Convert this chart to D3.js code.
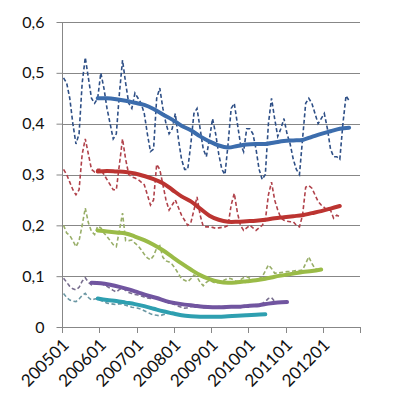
<!DOCTYPE html>
<html>
<head>
<meta charset="utf-8">
<script src="https://cdn.jsdelivr.net/npm/d3@7"></script>
<style>
  body { margin: 0; background: #fff; }
</style>
</head>
<body>
<script>
// months 200501 .. 201212 (category axis)
var years = [2005, 2006, 2007, 2008, 2009, 2010, 2011, 2012];
var months = [];
years.forEach(function(y) {
  for (var m = 1; m <= 12; m++) months.push(y + (m < 10 ? "0" : "") + m);
});
var tickLabels = ["200501", "200601", "200701", "200801", "200901", "201001", "201101", "201201"];
var yTicks = [0, 0.1, 0.2, 0.3, 0.4, 0.5, 0.6];

// monthly values (dashed), starting at 200501
var blueMonthly = [
  0.49, 0.48, 0.45, 0.40, 0.36, 0.38, 0.48, 0.53, 0.49, 0.45, 0.44, 0.45,
  0.50, 0.47, 0.43, 0.40, 0.37, 0.38, 0.46, 0.525, 0.48, 0.44, 0.43, 0.46,
  0.45, 0.44, 0.42, 0.38, 0.345, 0.35, 0.45, 0.47, 0.43, 0.40, 0.38, 0.39,
  0.42, 0.37, 0.33, 0.31, 0.31, 0.36, 0.42, 0.43, 0.39, 0.35, 0.335, 0.37,
  0.41, 0.38, 0.34, 0.31, 0.30, 0.36, 0.43, 0.44, 0.40, 0.36, 0.345, 0.39,
  0.39, 0.38, 0.35, 0.31, 0.29, 0.30, 0.40, 0.45, 0.41, 0.375, 0.39, 0.41,
  0.38, 0.36, 0.33, 0.31, 0.30, 0.37, 0.44, 0.45, 0.44, 0.42, 0.40, 0.41,
  0.42, 0.39, 0.35, 0.335, 0.335, 0.33, 0.40, 0.455, 0.445
];
var redMonthly = [
  0.31, 0.30, 0.285, 0.27, 0.26, 0.27, 0.34, 0.37, 0.34, 0.31, 0.305, 0.31,
  0.31, 0.30, 0.29, 0.28, 0.27, 0.27, 0.32, 0.37, 0.33, 0.30, 0.295, 0.293,
  0.29, 0.285, 0.28, 0.26, 0.24, 0.25, 0.32, 0.31, 0.28, 0.25, 0.23, 0.24,
  0.25, 0.235, 0.22, 0.21, 0.20, 0.205, 0.23, 0.256, 0.22, 0.198, 0.197, 0.197,
  0.196, 0.194, 0.195, 0.196, 0.197, 0.20, 0.24, 0.263, 0.225, 0.20, 0.19, 0.195,
  0.20, 0.195, 0.19, 0.195, 0.20, 0.21, 0.26, 0.285, 0.25, 0.23, 0.215, 0.21,
  0.208, 0.207, 0.207, 0.20, 0.197, 0.22, 0.275, 0.278, 0.273, 0.26, 0.247, 0.24,
  0.235, 0.23, 0.23, 0.214, 0.22, 0.217
];
var greenMonthly = [
  0.20, 0.185, 0.18, 0.17, 0.158, 0.17, 0.20, 0.234, 0.205, 0.188, 0.182, 0.198,
  0.195, 0.185, 0.178, 0.17, 0.162, 0.158, 0.19, 0.224, 0.17, 0.17, 0.171, 0.165,
  0.16, 0.152, 0.143, 0.136, 0.132, 0.14, 0.155, 0.16, 0.137, 0.13, 0.128, 0.123,
  0.115, 0.105, 0.095, 0.092, 0.089, 0.095, 0.102, 0.098, 0.088, 0.081, 0.088, 0.092,
  0.089, 0.086, 0.088, 0.09, 0.093, 0.096, 0.095, 0.092, 0.089, 0.093, 0.097, 0.099,
  0.096, 0.093, 0.092, 0.095, 0.099, 0.11, 0.122, 0.115, 0.106, 0.106, 0.107, 0.108,
  0.109, 0.109, 0.11, 0.111, 0.111, 0.112, 0.125, 0.138, 0.125, 0.115, 0.112
];
var purpleMonthly = [
  0.096, 0.088, 0.08, 0.075, 0.073, 0.078, 0.09, 0.097, 0.088, 0.083, 0.085, 0.087,
  0.086, 0.083, 0.08, 0.076, 0.072, 0.069, 0.074, 0.076, 0.072, 0.068, 0.066, 0.064,
  0.063, 0.061, 0.059, 0.057, 0.056, 0.057, 0.058, 0.056, 0.053, 0.05, 0.047, 0.046,
  0.044, 0.041, 0.039, 0.037, 0.038, 0.04, 0.041, 0.04, 0.039, 0.038, 0.038, 0.039,
  0.038, 0.039, 0.04, 0.04, 0.041, 0.04, 0.04, 0.041, 0.04, 0.041, 0.042, 0.043,
  0.042, 0.043, 0.044, 0.044, 0.046, 0.05, 0.056, 0.058, 0.05, 0.048, 0.048, 0.049,
  0.049
];
var tealMonthly = [
  0.066, 0.058, 0.053, 0.051, 0.05, 0.055, 0.062, 0.066, 0.058, 0.053, 0.055, 0.056,
  0.052, 0.05, 0.047, 0.046, 0.045, 0.044, 0.046, 0.045, 0.043, 0.041, 0.039, 0.038,
  0.037, 0.035, 0.032, 0.029, 0.026, 0.024, 0.023, 0.022, 0.024, 0.026, 0.027, 0.027,
  0.026, 0.025, 0.024, 0.024, 0.022, 0.021, 0.021, 0.02, 0.02, 0.02, 0.021, 0.02,
  0.02, 0.021, 0.021, 0.022, 0.021, 0.022, 0.022, 0.023, 0.022, 0.023, 0.023, 0.024,
  0.024, 0.024, 0.025, 0.024, 0.025, 0.025
];

// moving-average trend (thick), read every 3 months from its first month
var blueTrendStart = 11;
var blueTrend = [0.45, 0.45, 0.448, 0.445, 0.441, 0.437, 0.429, 0.418, 0.408, 0.396, 0.387, 0.375, 0.365, 0.357,
  0.353, 0.356, 0.359, 0.36, 0.36, 0.363, 0.366, 0.367, 0.368, 0.374, 0.38, 0.385, 0.39, 0.392];
var redTrendStart = 11;
var redTrend = [0.306, 0.307, 0.306, 0.305, 0.302, 0.297, 0.291, 0.283, 0.27, 0.257, 0.247, 0.233, 0.219, 0.211,
  0.207, 0.207, 0.208, 0.209, 0.211, 0.214, 0.216, 0.218, 0.22, 0.224, 0.228, 0.233, 0.238];
var greenTrendStart = 11;
var greenTrend = [0.19, 0.188, 0.186, 0.184, 0.178, 0.171, 0.162, 0.151, 0.138, 0.125, 0.113, 0.102, 0.094, 0.089,
  0.087, 0.088, 0.09, 0.092, 0.095, 0.099, 0.102, 0.105, 0.108, 0.11, 0.113];
var purpleTrendStart = 9;
var purpleTrend = [0.087, 0.086, 0.083, 0.079, 0.074, 0.068, 0.062, 0.057, 0.051, 0.047, 0.044, 0.042, 0.04, 0.039,
  0.039, 0.04, 0.04, 0.042, 0.043, 0.046, 0.048, 0.049];
var tealTrendStart = 11;
var tealTrend = [0.056, 0.053, 0.051, 0.048, 0.045, 0.041, 0.036, 0.031, 0.027, 0.023, 0.021, 0.02, 0.02, 0.02,
  0.021, 0.022, 0.023, 0.024, 0.025];
var trendStep = 3;

var series = [
  { monthly: blueMonthly, trend: blueTrend, start: blueTrendStart, dash: "#2E4F86", thick: "#3C6DAD" },
  { monthly: redMonthly, trend: redTrend, start: redTrendStart, dash: "#B0414A", thick: "#BC3431" },
  { monthly: greenMonthly, trend: greenTrend, start: greenTrendStart, dash: "#98AE68", thick: "#9ABB47" },
  { monthly: purpleMonthly, trend: purpleTrend, start: purpleTrendStart, dash: "#786E8E", thick: "#7155A0" },
  { monthly: tealMonthly, trend: tealTrend, start: tealTrendStart, dash: "#6B97A3", thick: "#2E9FB0" }
];

//Width and height
var w = 397, h = 409;
var plotLeft = 62, plotRight = 360, plotTop = 22, plotBottom = 327;

var svg = d3.select("body").append("svg")
  .attr("width", w)
  .attr("height", h);

var x = d3.scaleBand().domain(months).range([plotLeft, plotRight]).padding(0);
var y = d3.scaleLinear().domain([0, 0.6]).range([plotBottom, plotTop]);
var xc = function(i) { return x(months[i]) + x.bandwidth() / 2; };

// gridlines
svg.selectAll("line.grid")
  .data(yTicks.slice(1))
  .enter()
  .append("line")
  .attr("x1", plotLeft)
  .attr("x2", plotRight)
  .attr("y1", function(d) { return Math.round(y(d)) + 0.5; })
  .attr("y2", function(d) { return Math.round(y(d)) + 0.5; })
  .attr("stroke", "#878787")
  .attr("stroke-width", 1);

// y axis
var yAxis = d3.axisLeft(y)
  .tickValues(yTicks)
  .tickSize(6)
  .tickPadding(12)
  .tickFormat(function(d) { return d === 0 ? "0" : d3.format(".1f")(d).replace(".", ","); });
var gy = svg.append("g").attr("transform", "translate(" + (plotLeft + 0.5) + ",0)").call(yAxis);
gy.select(".domain").attr("stroke", "#878787").attr("d", "M0," + plotTop + "V" + plotBottom);
gy.selectAll(".tick line").attr("stroke", "#878787");
gy.selectAll(".tick text")
  .attr("font-family", "Lato, 'Open Sans', sans-serif")
  .attr("font-size", "16px")
  .attr("fill", "#111");

// x axis: ticks every 12 months plus the end
var xTickPos = tickLabels.map(function(t) { return x(t); }).concat([plotRight]);
svg.append("line")
  .attr("x1", plotLeft).attr("x2", plotRight)
  .attr("y1", plotBottom + 0.5).attr("y2", plotBottom + 0.5)
  .attr("stroke", "#878787");
svg.selectAll("line.xtick")
  .data(xTickPos)
  .enter()
  .append("line")
  .attr("x1", function(d) { return Math.round(d) + 0.5; })
  .attr("x2", function(d) { return Math.round(d) + 0.5; })
  .attr("y1", plotBottom)
  .attr("y2", plotBottom + 6)
  .attr("stroke", "#878787");

svg.selectAll("text.xlabel")
  .data(tickLabels)
  .enter()
  .append("text")
  .attr("text-anchor", "end")
  .attr("transform", function(d) {
    return "translate(" + (x(d) + 8) + "," + (plotBottom + 19) + ") rotate(-45)";
  })
  .attr("font-family", "Lato, 'Open Sans', sans-serif")
  .attr("font-size", "17px")
  .attr("fill", "#111")
  .text(function(d) { return d; });

// dashed monthly lines
var line = d3.line()
  .x(function(d, i) { return xc(i); })
  .y(function(d) { return y(d); });

svg.selectAll("path.monthly")
  .data(series)
  .enter()
  .append("path")
  .attr("d", function(s) { return line(s.monthly); })
  .attr("fill", "none")
  .attr("stroke", function(s) { return s.dash; })
  .attr("stroke-width", 1.6)
  .attr("stroke-dasharray", "4,2.5");

// thick trend lines
var trendLine = d3.line()
  .x(function(d) { return xc(d.i); })
  .y(function(d) { return y(d.v); })
  .curve(d3.curveCatmullRom);

svg.selectAll("path.trend")
  .data(series)
  .enter()
  .append("path")
  .attr("d", function(s) {
    return trendLine(s.trend.map(function(v, k) { return { i: s.start + k * trendStep, v: v }; }));
  })
  .attr("fill", "none")
  .attr("stroke", function(s) { return s.thick; })
  .attr("stroke-width", 4)
  .attr("stroke-linecap", "round")
  .attr("stroke-linejoin", "round");
</script>
</body>
</html>
